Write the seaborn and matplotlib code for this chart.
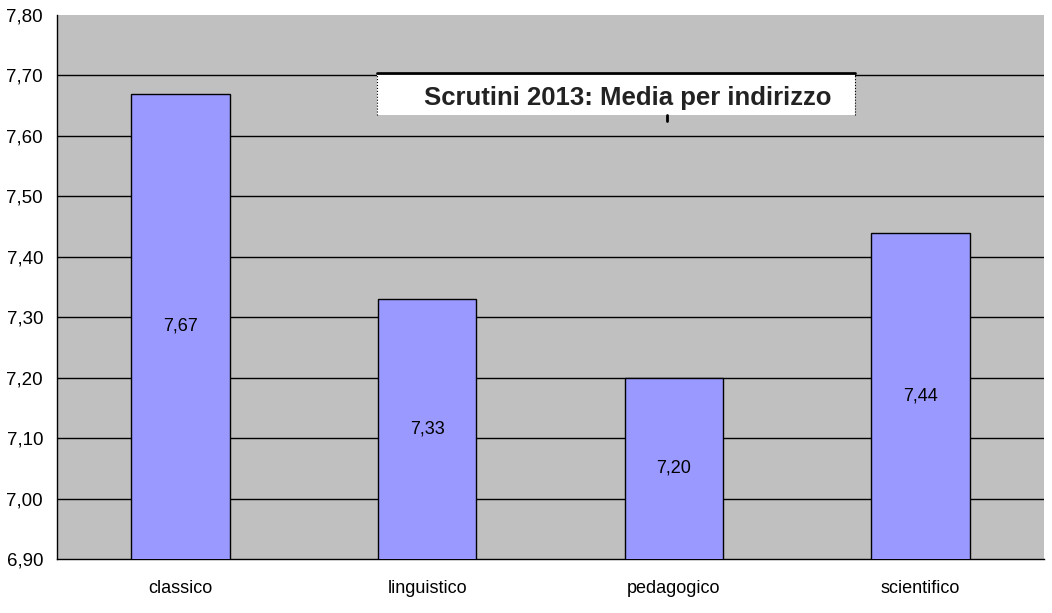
import matplotlib
matplotlib.use("Agg")
import matplotlib.pyplot as plt
import seaborn as sns
import pandas as pd
from matplotlib.patches import Rectangle

# - - - data - - - #
indirizzi = ["classico", "linguistico", "pedagogico", "scientifico"]
medie = [7.67, 7.33, 7.20, 7.44]
y_ticks = [6.90, 7.00, 7.10, 7.20, 7.30, 7.40, 7.50, 7.60, 7.70, 7.80]
titolo = "Scrutini 2013: Media per indirizzo"

df = pd.DataFrame({"indirizzo": indirizzi, "media": medie})

sns.set_style("white")
plt.rcParams["font.family"] = ["Liberation Sans", "DejaVu Sans"]
plt.rcParams["text.color"] = "black"
plt.rcParams["xtick.color"] = "black"
plt.rcParams["ytick.color"] = "black"

fig = plt.figure(figsize=(10.52, 6.13), dpi=100)
ax = fig.add_axes([57 / 1052, 1 - 559 / 613, (1044 - 57) / 1052, (559 - 15) / 613])
ax.set_facecolor("#C0C0C0")

sns.barplot(data=df, x="indirizzo", y="media", color="#9999FF", width=0.4,
            edgecolor="black", linewidth=1, saturation=1, ax=ax, zorder=3)

ymin, ymax = 6.90, 7.80
ax.set_ylim(ymin, ymax)
ax.set_xlim(-0.5, len(indirizzi) - 0.5)
ax.set_yticks(y_ticks)
ax.set_yticklabels([f"{v:.2f}".replace(".", ",") for v in y_ticks], fontsize=13.5)
# gridlines (none on the top edge)
for v in y_ticks[1:-1]:
    ax.axhline(v, color="black", linewidth=1, zorder=1)

# x ticks at category boundaries, labels centred under bars
ax.set_xticks([i - 0.5 for i in range(len(indirizzi) + 1)])
ax.set_xticklabels([])
ax.set_xticks(range(len(indirizzi)), minor=True)
ax.set_xticklabels(indirizzi, minor=True, fontsize=13)
ax.tick_params(axis="x", which="major", direction="out", length=6, width=1)
ax.tick_params(axis="x", which="minor", length=0, pad=15)
ax.tick_params(axis="y", direction="out", length=6, width=1, pad=4)

for side in ["top", "right"]:
    ax.spines[side].set_visible(False)
for side in ["left", "bottom"]:
    ax.spines[side].set_color("black")
    ax.spines[side].set_linewidth(1)
ax.set_xlabel("")
ax.set_ylabel("")

# value labels in the middle of the visible bar
for i, v in enumerate(medie):
    ax.text(i, (ymin + v) / 2, f"{v:.2f}".replace(".", ","), ha="center", va="center",
            fontsize=13, color="black", zorder=5)

# title box
box = Rectangle((377 / 1052, 1 - 115 / 613), (855 - 377) / 1052, (115 - 72) / 613,
                transform=fig.transFigure, facecolor="white", edgecolor="none", zorder=10)
fig.add_artist(box)
fig.add_artist(plt.Line2D([377 / 1052, 855 / 1052], [1 - 73 / 613, 1 - 73 / 613],
                          transform=fig.transFigure, color="black", linewidth=2, zorder=11))
for xx in (377, 855):
    fig.add_artist(plt.Line2D([xx / 1052, xx / 1052], [1 - 115 / 613, 1 - 72 / 613],
                              transform=fig.transFigure, color="black", linewidth=0.8,
                              linestyle=":", zorder=11))
fig.text(628 / 1052, 1 - 98 / 613, titolo, ha="center", va="center", fontsize=18.5,
         fontweight="bold", color="#222222", zorder=12)
fig.add_artist(plt.Line2D([667 / 1052, 667 / 1052], [1 - 121 / 613, 1 - 115 / 613],
                          transform=fig.transFigure, color="black", linewidth=2, zorder=11))

fig.savefig("out.png", dpi=100, facecolor="white")
